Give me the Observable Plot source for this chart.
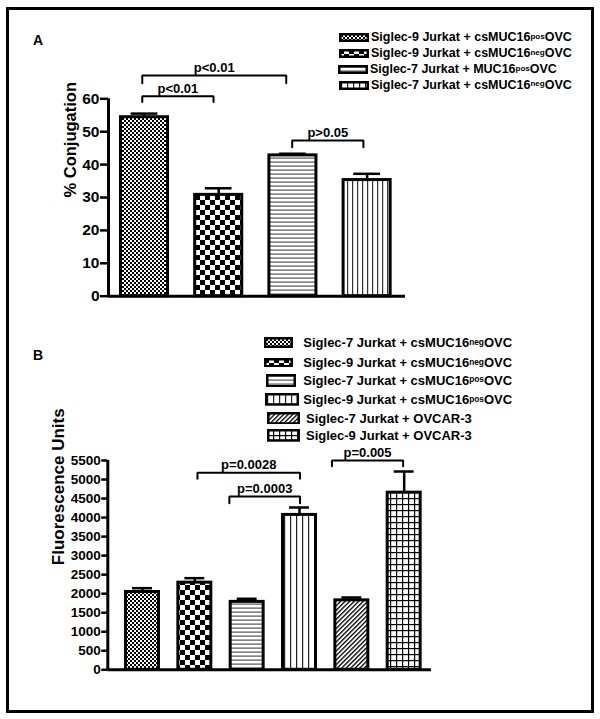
<!DOCTYPE html>
<html><head><meta charset="utf-8">
<script src="https://cdn.jsdelivr.net/npm/d3@7"></script>
<script src="https://cdn.jsdelivr.net/npm/@observablehq/plot@0.6"></script>
<style>
body{margin:0;background:#fff;font-family:"Liberation Sans",Arial,sans-serif;font-weight:bold;color:#000;}
#page{position:relative;width:600px;height:719px;overflow:hidden;background:#fff;}
.holder{position:absolute;left:0;}
.frame{position:absolute;left:6px;top:6.5px;width:587.5px;height:706px;border:3px solid #000;box-sizing:border-box;pointer-events:none;}
#page g[aria-label^="y-axis"] line, #page g[aria-label="y-axis tick"] path{stroke-width:2.5px;}
#chartA g[aria-label^="y-axis"] text{font-size:15.5px;font-weight:bold;}
#chartB g[aria-label^="y-axis"] text{font-size:13.5px;font-weight:bold;}
.ptitle{position:absolute;font-size:14px;line-height:1;font-weight:bold;}
.leg-sw{position:absolute;display:block;}
.leg-tx{position:absolute;white-space:nowrap;line-height:1;font-weight:bold;}
.leg-tx .sup{font-size:0.64em;position:relative;top:-0.3em;}
</style></head>
<body>
<svg width="0" height="0" style="position:absolute">
<defs>
<pattern id="fine" width="4" height="4" patternUnits="userSpaceOnUse"><rect width="4" height="4" fill="#fff"/><rect width="2" height="2" fill="#000"/><rect x="2" y="2" width="2" height="2" fill="#000"/></pattern>
<pattern id="check" width="10" height="10" patternUnits="userSpaceOnUse"><rect width="10" height="10" fill="#fff"/><rect width="5" height="5" fill="#000"/><rect x="5" y="5" width="5" height="5" fill="#000"/></pattern>
<pattern id="hlines" width="4" height="4" patternUnits="userSpaceOnUse"><rect width="4" height="4" fill="#fff"/><rect y="1.5" width="4" height="1.2" fill="#555"/></pattern>
<pattern id="vlines5" width="5" height="5" patternUnits="userSpaceOnUse"><rect width="5" height="5" fill="#fff"/><rect x="2" width="1.2" height="5" fill="#333"/></pattern>
<pattern id="vlines6" width="6" height="6" patternUnits="userSpaceOnUse"><rect width="6" height="6" fill="#fff"/><rect x="2" width="1.2" height="6" fill="#222"/></pattern>
<pattern id="diag" width="3.2" height="3.2" patternUnits="userSpaceOnUse" patternTransform="rotate(45)"><rect width="3.2" height="3.2" fill="#fff"/><rect width="1.3" height="3.2" fill="#000"/></pattern>
<pattern id="grid" width="6" height="6" patternUnits="userSpaceOnUse"><rect width="6" height="6" fill="#fff"/><rect width="1.2" height="6" fill="#000"/><rect width="6" height="1.2" fill="#000"/></pattern>
</defs>
</svg>
<div id="page">
  <div class="holder" id="chartA" style="top:0"></div>
  <div class="holder" id="chartB" style="top:330px"></div>
  <div class="ptitle" style="left:33px;top:32.5px">A</div>
  <div class="ptitle" style="left:33px;top:348px">B</div>
  <div id="legA"></div>
  <div id="legB"></div>
  <div class="frame"></div>
</div>
<script>
// ---------- Data: panel A ----------
const legendA = [
  ["Siglec-9 Jurkat + csMUC16", "pos", "OVC"],
  ["Siglec-9 Jurkat + csMUC16", "neg", "OVC"],
  ["Siglec-7 Jurkat + MUC16", "pos", "OVC"],
  ["Siglec-7 Jurkat + csMUC16", "neg", "OVC"]
];
const valuesA = [54.4, 30.8, 42.8, 35.3];
const errorsA = [1.1, 2.0, 0.5, 1.9];
const yTicksA = [0, 10, 20, 30, 40, 50, 60];
const bracketLabelsA = ["p<0.01", "p<0.01", "p>0.05"];
const bracketFromA = [-0.03, -0.03, 1.99];
const bracketToA = [0.93, 1.91, 2.95];
const bracketTopA = [60.8, 67.1, 47.3];
const bracketBottomA = [59.0, 64.7, 45.3];

// ---------- Data: panel B ----------
const legendB = [
  ["Siglec-7 Jurkat + csMUC16", "neg", "OVC"],
  ["Siglec-9 Jurkat + csMUC16", "neg", "OVC"],
  ["Siglec-7 Jurkat + csMUC16", "pos", "OVC"],
  ["Siglec-9 Jurkat + csMUC16", "pos", "OVC"],
  ["Siglec-7 Jurkat + OVCAR-3", "", ""],
  ["Siglec-9 Jurkat + OVCAR-3", "", ""]
];
const valuesB = [2045, 2290, 1785, 4070, 1825, 4655];
const errorsB = [100, 118, 82, 195, 75, 556];
const yTicksB = [0, 500, 1000, 1500, 2000, 2500, 3000, 3500, 4000, 4500, 5000, 5500];
const bracketLabelsB = ["p=0.0028", "p=0.0003", "p=0.005"];
const bracketFromB = [1.05, 1.66, 3.62];
const bracketToB = [3.01, 3.01, 4.98];
const bracketTopB = [5177, 4554, 5500];
const bracketBottomB = [5019, 4378, 5351];

// ---------- Styles ----------
const patternsA = ["fine", "check", "hlines", "vlines5"];
const patternsB = ["fine", "check", "hlines", "vlines6", "diag", "grid"];
const FONT = "'Liberation Sans', Arial, sans-serif";

function panel(o) {
  const bars = o.values.map((v, i) => ({i, v, e: o.errors[i], fill: `url(#${o.patterns[i]})`}));
  const brackets = o.labels.map((label, k) => ({label, from: o.from[k], to: o.to[k], top: o.top[k], bottom: o.bottom[k]}));
  const pts = brackets.flatMap((b, k) => [
    {k, x: b.from, y: b.bottom}, {k, x: b.from, y: b.top},
    {k, x: b.to, y: b.top}, {k, x: b.to, y: b.bottom}
  ]);
  return Plot.plot({
    width: 600, height: o.height,
    marginLeft: o.ml, marginRight: o.mr, marginTop: o.mt, marginBottom: o.mb,
    style: {fontFamily: FONT, fontSize: o.tickFont + "px", fontWeight: "bold", background: "transparent", color: "#000", overflow: "visible"},
    x: {domain: o.xDomain, axis: null},
    y: {domain: o.yDomain, ticks: o.yTicks, tickSize: o.tickSize, tickPadding: 1, tickFormat: d => String(d), label: null},
    color: {type: "identity"},
    marks: [
      Plot.ruleX(bars, {x: "i", y1: "v", y2: d => d.v + d.e, stroke: "#000", strokeWidth: 2.5}),
      Plot.ruleY(bars, {y: d => d.v + d.e, x1: d => d.i - o.capHalf, x2: d => d.i + o.capHalf, stroke: "#000", strokeWidth: 2.5}),
      Plot.rect(bars, {x1: d => d.i - o.halfWidth, x2: d => d.i + o.halfWidth, y1: 0, y2: "v", fill: "fill", stroke: "#000", strokeWidth: 3}),
      Plot.ruleY([o.yDomain[0]], {stroke: "#000", strokeWidth: 3}),
      Plot.ruleX([o.xDomain[0]], {y1: o.yDomain[0], y2: o.yDomain[1], stroke: "#000", strokeWidth: 3}),
      Plot.line(pts, {x: "x", y: "y", z: "k", stroke: "#000", strokeWidth: 2, strokeLinejoin: "miter"}),
      Plot.text(brackets, {x: d => (d.from + d.to) / 2, y: "top", text: "label", lineAnchor: "bottom", dy: -3.5, fontSize: 13, fontWeight: "bold", fill: "#000"}),
      Plot.text([o.ylabel], {frameAnchor: "left", rotate: -90, dx: o.ylabelDx, text: d => d, fontSize: o.ylabelFont, fontWeight: "bold", fill: "#000"})
    ]
  });
}

document.getElementById("chartA").append(panel({
  values: valuesA, errors: errorsA, patterns: patternsA,
  labels: bracketLabelsA, from: bracketFromA, to: bracketToA, top: bracketTopA, bottom: bracketBottomA,
  height: 320, ml: 108, mr: 195, mt: 98.3, mb: 24.3,
  xDomain: [-0.485, 3.517], yDomain: [0, 60], yTicks: yTicksA,
  halfWidth: 0.317, capHalf: 0.18, tickSize: 8, tickFont: 15.5,
  ylabel: "% Conjugation", ylabelDx: -38, ylabelFont: 16.5
}));

document.getElementById("chartB").append(panel({
  values: valuesB, errors: errorsB, patterns: patternsB,
  labels: bracketLabelsB, from: bracketFromB, to: bracketToB, top: bracketTopB, bottom: bracketBottomB,
  height: 360, ml: 107.3, mr: 169, mt: 130, mb: 20.7,
  xDomain: [-0.663, 5.522], yDomain: [0, 5500], yTicks: yTicksB,
  halfWidth: 0.315, capHalf: 0.19, tickSize: 6, tickFont: 13.5,
  ylabel: "Fluorescence Units", ylabelDx: -49, ylabelFont: 17
}));

// ---------- Legends ----------
function legend(el, items, patterns, layout) {
  items.forEach((parts, i) => {
    const L = layout[i];
    const w = L.sw, h = L.sh;
    const ns = "http://www.w3.org/2000/svg";
    const svg = document.createElementNS(ns, "svg");
    svg.setAttribute("width", w); svg.setAttribute("height", h);
    svg.setAttribute("class", "leg-sw");
    svg.style.left = L.sx + "px"; svg.style.top = (L.cy - h / 2) + "px";
    const r = document.createElementNS(ns, "rect");
    r.setAttribute("x", 1.25); r.setAttribute("y", 1.25);
    r.setAttribute("width", w - 2.5); r.setAttribute("height", h - 2.5);
    r.setAttribute("fill", `url(#${patterns[i]})`);
    r.setAttribute("stroke", "#000"); r.setAttribute("stroke-width", 2.5);
    svg.append(r);
    el.append(svg);
    const t = document.createElement("div");
    t.className = "leg-tx";
    t.style.left = L.tx + "px"; t.style.top = (L.cy - L.fs / 2) + "px"; t.style.fontSize = L.fs + "px";
    t.append(document.createTextNode(parts[0]));
    if (parts[1]) { const s = document.createElement("span"); s.className = "sup"; s.textContent = parts[1]; t.append(s); }
    if (parts[2]) t.append(document.createTextNode(parts[2]));
    el.append(t);
  });
}
const layoutA = [
  {sx: 339, sw: 30, sh: 9, tx: 371, cy: 37.7, fs: 12.5},
  {sx: 339, sw: 30, sh: 9, tx: 371, cy: 53.3, fs: 12.5},
  {sx: 338, sw: 30, sh: 9, tx: 370, cy: 69.2, fs: 12.5},
  {sx: 339, sw: 30, sh: 9, tx: 371, cy: 85, fs: 12.5}
];
const layoutB = [
  {sx: 264, sw: 29, sh: 11, tx: 303.3, cy: 342.7, fs: 13},
  {sx: 264, sw: 29, sh: 9.5, tx: 303.3, cy: 362.5, fs: 13},
  {sx: 265.7, sw: 30, sh: 13.5, tx: 303.3, cy: 380.3, fs: 13},
  {sx: 265, sw: 34, sh: 12.7, tx: 303.3, cy: 399.7, fs: 13},
  {sx: 267.3, sw: 33, sh: 12.7, tx: 306, cy: 418, fs: 13},
  {sx: 267.3, sw: 33, sh: 12.7, tx: 306, cy: 435.4, fs: 13}
];
legend(document.getElementById("legA"), legendA, patternsA.map(p => p === "vlines5" ? "vlines6" : p), layoutA);
legend(document.getElementById("legB"), legendB, patternsB, layoutB);
</script>
</body></html>
